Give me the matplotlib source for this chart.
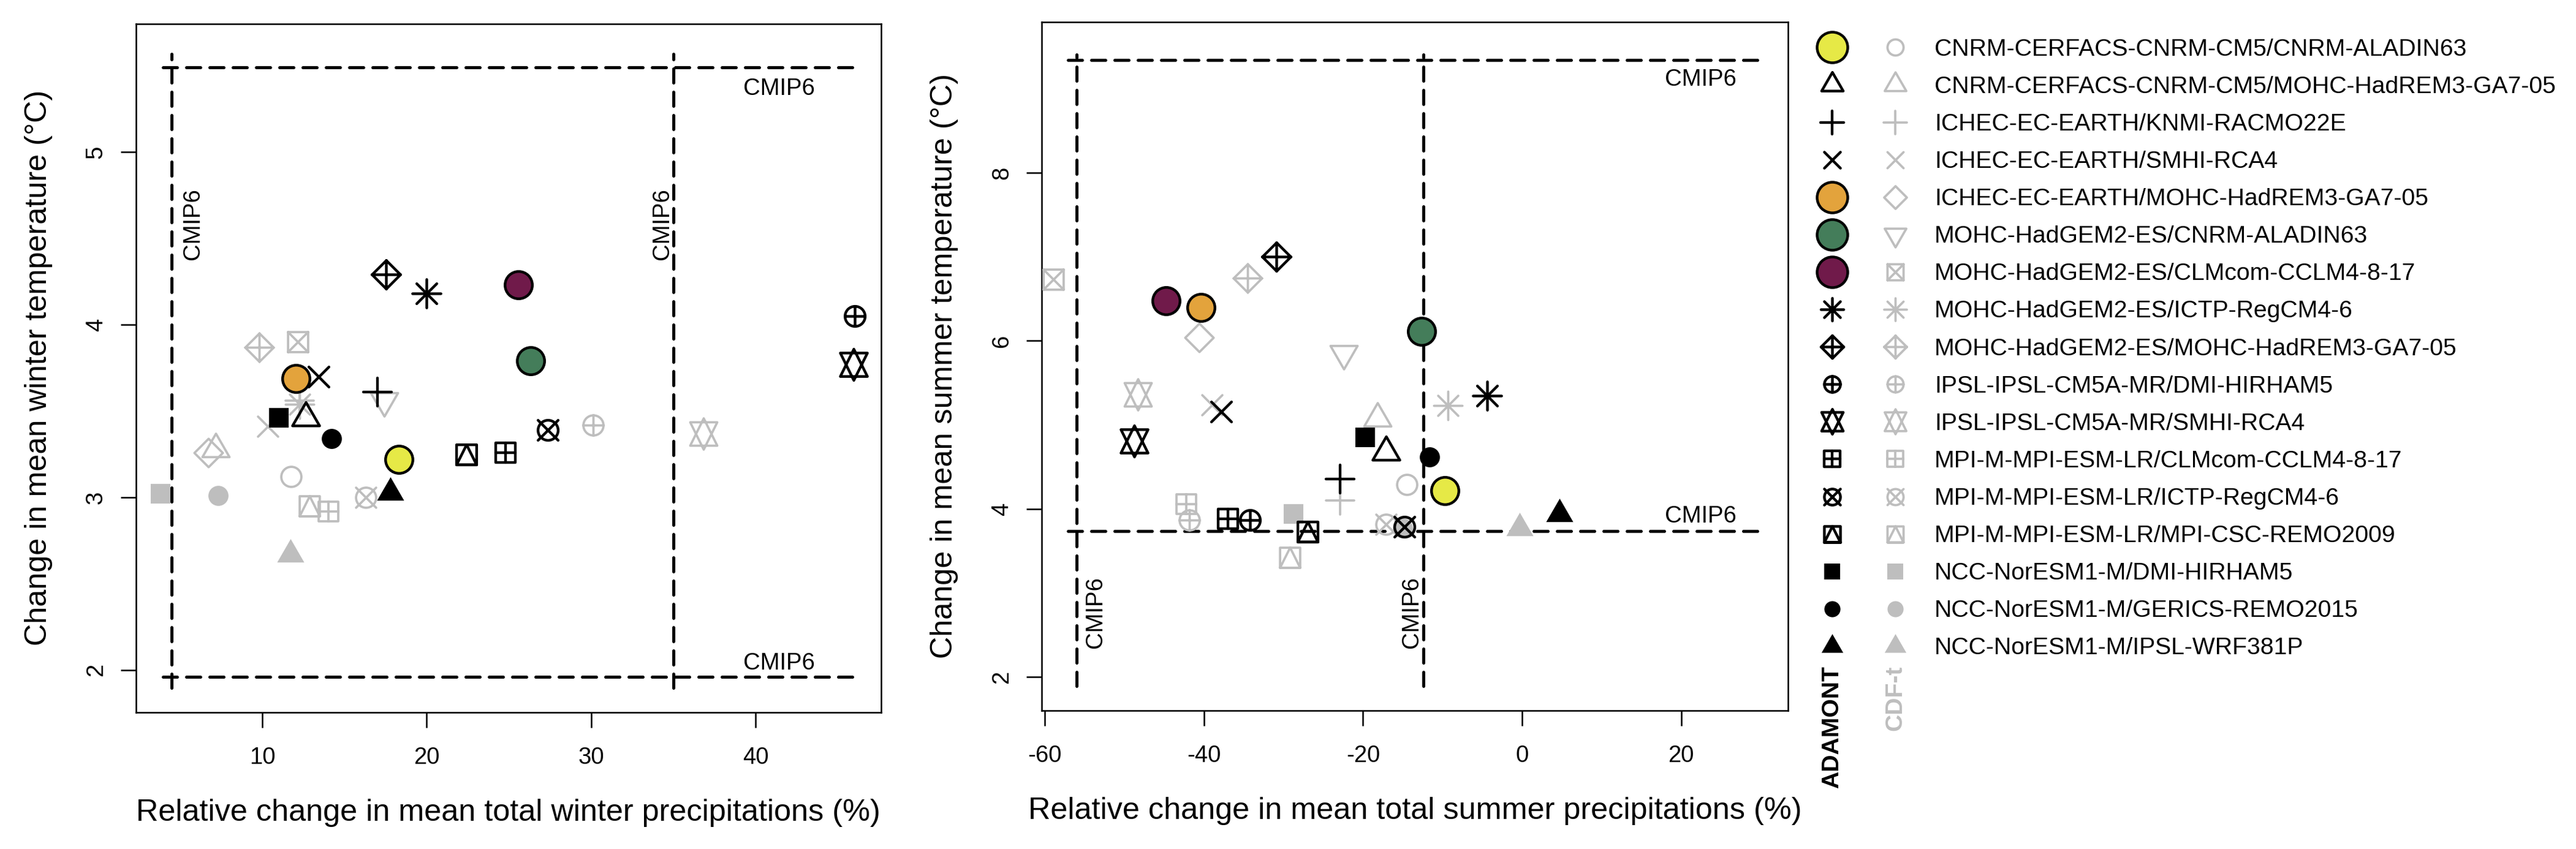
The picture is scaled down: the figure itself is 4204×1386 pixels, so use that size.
import numpy as np
import matplotlib
matplotlib.use("Agg")
import matplotlib.pyplot as plt
from matplotlib.path import Path
from matplotlib.markers import MarkerStyle
from matplotlib import transforms

plt.rcParams['font.family'] = ['Liberation Sans', 'DejaVu Sans']

# ---- data ----
models = [
    "CNRM-CERFACS-CNRM-CM5/CNRM-ALADIN63",
    "CNRM-CERFACS-CNRM-CM5/MOHC-HadREM3-GA7-05",
    "ICHEC-EC-EARTH/KNMI-RACMO22E",
    "ICHEC-EC-EARTH/SMHI-RCA4",
    "ICHEC-EC-EARTH/MOHC-HadREM3-GA7-05",
    "MOHC-HadGEM2-ES/CNRM-ALADIN63",
    "MOHC-HadGEM2-ES/CLMcom-CCLM4-8-17",
    "MOHC-HadGEM2-ES/ICTP-RegCM4-6",
    "MOHC-HadGEM2-ES/MOHC-HadREM3-GA7-05",
    "IPSL-IPSL-CM5A-MR/DMI-HIRHAM5",
    "IPSL-IPSL-CM5A-MR/SMHI-RCA4",
    "MPI-M-MPI-ESM-LR/CLMcom-CCLM4-8-17",
    "MPI-M-MPI-ESM-LR/ICTP-RegCM4-6",
    "MPI-M-MPI-ESM-LR/MPI-CSC-REMO2009",
    "NCC-NorESM1-M/DMI-HIRHAM5",
    "NCC-NorESM1-M/GERICS-REMO2015",
    "NCC-NorESM1-M/IPSL-WRF381P",
]

# R-like symbol codes (21 = big filled circle)
pch_adamont = [21, 2, 3, 4, 21, 21, 21, 8, 9, 10, 11, 12, 13, 14, 15, 16, 17]
pch_cdft = [1, 2, 3, 4, 5, 6, 7, 8, 9, 10, 11, 12, 13, 14, 15, 16, 17]
bg_adamont = ["#E6E946", None, None, None, "#E3A33C", "#447D5A", "#701A4A",
              None, None, None, None, None, None, None, None, None, None]

# winter (DJF)
winter_adamont_pr = [18.30, 12.66, 17.02, 13.44, 12.04, 26.32, 25.57, 19.98, 17.52,
                     46.02, 45.95, 24.79, 27.35, 22.40, 11.02, 14.21, 17.79]
winter_adamont_tas = [3.22, 3.46, 3.61, 3.70, 3.69, 3.79, 4.23, 4.18, 4.29,
                      4.05, 3.77, 3.26, 3.39, 3.25, 3.46, 3.34, 3.03]
winter_cdft_pr = [11.74, 7.17, 12.29, 10.34, 6.71, 17.42, 12.16, 12.26, 9.82,
                  30.13, 36.83, 14.03, 16.30, 12.88, 3.82, 7.33, 11.73]
winter_cdft_tas = [3.12, 3.28, 3.56, 3.41, 3.26, 3.56, 3.90, 3.54, 3.87,
                   3.42, 3.37, 2.92, 3.00, 2.95, 3.02, 3.01, 2.67]

# summer (JJA)
summer_adamont_pr = [-9.7, -17.1, -22.9, -37.8, -40.4, -12.6, -44.8, -4.4, -30.9,
                     -34.2, -48.8, -37.0, -14.8, -27.0, -19.7, -11.6, 4.7]
summer_adamont_tas = [4.22, 4.68, 4.36, 5.16, 6.40, 6.11, 6.48, 5.35, 7.00,
                      3.87, 4.81, 3.88, 3.79, 3.73, 4.85, 4.62, 3.94]
summer_cdft_pr = [-14.5, -18.2, -22.9, -39.0, -40.6, -22.4, -58.9, -9.3, -34.5,
                  -41.8, -48.3, -42.2, -17.1, -29.2, -28.7, -15.0, -0.3]
summer_cdft_tas = [4.29, 5.08, 4.10, 5.24, 6.04, 5.85, 6.73, 5.23, 6.75,
                   3.87, 5.36, 4.06, 3.82, 3.42, 3.94, 3.77, 3.77]

# CMIP6 ranges
winter_cmip6_pr = [4.5, 35.0]
winter_cmip6_tas = [1.96, 5.49]
summer_cmip6_pr = [-56.0, -12.4]
summer_cmip6_tas = [3.74, 9.34]

winter_xticks = [10, 20, 30, 40]
winter_yticks = [2, 3, 4, 5]
summer_xticks = [-60, -40, -20, 0, 20]
summer_yticks = [2, 4, 6, 8]

GREY = "#BEBEBE"
DPI = 300
W, H = 4204, 1386

# ---- R-like symbols as paths ----
TRC0 = np.sqrt(4 * np.pi / (3 * np.sqrt(3)))
TRC1 = TRC0 * np.sqrt(3) / 2
TRC2 = TRC0 / 2
S2 = np.sqrt(2)


def seg(*pts):
    return Path(pts, [Path.MOVETO] + [Path.LINETO] * (len(pts) - 1))


def poly(*pts):
    pts = list(pts) + [pts[0]]
    return Path(pts, [Path.MOVETO] + [Path.LINETO] * (len(pts) - 2) + [Path.CLOSEPOLY])


def comp(*paths):
    return Path.make_compound_path(*paths)


circ = Path.unit_circle()
sq = poly((-1, -1), (1, -1), (1, 1), (-1, 1))
tri_up = poly((0, TRC0), (TRC1, -TRC2), (-TRC1, -TRC2))
tri_dn = poly((0, -TRC0), (TRC1, TRC2), (-TRC1, TRC2))
plus_big = comp(seg((-S2, 0), (S2, 0)), seg((0, -S2), (0, S2)))
plus_1 = comp(seg((-1, 0), (1, 0)), seg((0, -1), (0, 1)))
cross = comp(seg((-1, -1), (1, 1)), seg((-1, 1), (1, -1)))
diamond = poly((0, S2), (S2, 0), (0, -S2), (-S2, 0))
yc = 0.5 * (TRC2 + TRC0)
star = comp(poly((0, -TRC0), (TRC1, yc), (-TRC1, yc)),
            poly((0, TRC0), (TRC1, -yc), (-TRC1, -yc)))

PCH = {
    1: circ, 2: tri_up, 3: plus_big, 4: cross, 5: diamond, 6: tri_dn,
    7: comp(sq, cross), 8: comp(cross, plus_big), 9: comp(diamond, plus_big),
    10: comp(circ, plus_1), 11: star, 12: comp(sq, plus_1), 13: comp(circ, cross),
    14: comp(sq, poly((0, 1), (1, -1), (-1, -1))), 15: sq, 16: circ, 17: tri_up,
}


def draw_symbol(ax, x, y, pch, col, r_pt, lw, bg=None, big_ms=10.7, z=3):
    if pch == 21:
        ax.plot([x], [y], ls="none", marker="o", ms=big_ms, mfc=bg, mec="black",
                mew=lw, zorder=z + 1)
        return
    path = PCH[pch]
    ms = 2 * np.abs(path.vertices).max() * r_pt
    m = MarkerStyle(path, capstyle="round", joinstyle="round")
    if pch in (15, 16, 17):
        ax.plot([x], [y], ls="none", marker=m, ms=ms, mfc=col, mec=col, mew=0.0, zorder=z)
    else:
        ax.plot([x], [y], ls="none", marker=m, ms=ms, mfc="none", mec=col, mew=lw, zorder=z)


R_PLOT = 16.4 / DPI * 72
R_LEG = 13.1 / DPI * 72
LW_BLACK = 1.05
LW_GREY = 0.9

fig = plt.figure(figsize=(W / DPI, H / DPI), dpi=DPI)
ax1 = fig.add_axes([0.05273, 0.16111, 0.28933, 0.81082])
ax2 = fig.add_axes([0.40438, 0.16328, 0.28965, 0.81097])


def dashed(ax, xs, ys):
    ax.plot(xs, ys, color="black", lw=1.2, dashes=(4.6, 3.0),
            dash_capstyle="round", zorder=1)


def setup(ax, xlim, ylim, xticks, yticks, xlabel, ylabel):
    ax.set_xlim(*xlim)
    ax.set_ylim(*ylim)
    ax.set_xticks(xticks)
    ax.set_yticks(yticks)
    ax.set_xticklabels([])
    ax.set_yticklabels([])
    ax.tick_params(direction="out", length=5.9, width=0.6, color="black")
    for s in ax.spines.values():
        s.set_linewidth(0.6)
    tx = transforms.offset_copy(ax.get_xaxis_transform(), fig=fig, y=-20.3, units="points")
    for v in xticks:
        ax.text(v, 0, str(v), transform=tx, ha="center", va="baseline", fontsize=9.2)
    ty = transforms.offset_copy(ax.get_yaxis_transform(), fig=fig, x=-13.2, units="points")
    for v in yticks:
        ax.text(0, v, str(v), transform=ty, ha="center", va="baseline", rotation=90,
                rotation_mode="anchor", fontsize=9.2)
    lx = transforms.offset_copy(ax.transAxes, fig=fig, y=-42.6, units="points")
    ax.text(0.5, 0, xlabel, transform=lx, ha="center", va="baseline", fontsize=12.1)
    ly = transforms.offset_copy(ax.transAxes, fig=fig, x=-35.0, units="points")
    ax.text(0, 0.5, ylabel, transform=ly, ha="center", va="baseline", rotation=90,
            rotation_mode="anchor", fontsize=12.1)


def panel(ax, cmip_pr, cmip_tas, hspan, vspan, vlab_y, vlab_dx, hlab_x, hlab_y,
          ad_pr, ad_tas, cd_pr, cd_tas):
    for t in cmip_tas:
        dashed(ax, hspan, [t, t])
    for p in cmip_pr:
        dashed(ax, [p, p], vspan)
    for p, d in zip(cmip_pr, vlab_dx):
        ax.text(p + d, vlab_y, "CMIP6", rotation=90, rotation_mode="anchor",
                ha="center", va="baseline", fontsize=9.2)
    for y in hlab_y:
        ax.text(hlab_x, y, "CMIP6", ha="center", va="baseline", fontsize=9.2)
    for i in range(len(models)):
        draw_symbol(ax, cd_pr[i], cd_tas[i], pch_cdft[i], GREY, R_PLOT, LW_GREY, z=3)
    for i in range(len(models)):
        draw_symbol(ax, ad_pr[i], ad_tas[i], pch_adamont[i], "black", R_PLOT, LW_BLACK,
                    bg=bg_adamont[i], z=5)


panel(ax1, winter_cmip6_pr, winter_cmip6_tas, [3.95, 46.09], [1.895, 5.568],
      4.583, [1.67, -0.31], 41.43, [5.333, 2.004],
      winter_adamont_pr, winter_adamont_tas, winter_cdft_pr, winter_cdft_tas)
setup(ax1, (2.313, 47.635), (1.7555, 5.7435), winter_xticks, winter_yticks,
      "Relative change in mean total winter precipitations (%)",
      "Change in mean winter temperature (°C)")

panel(ax2, summer_cmip6_pr, summer_cmip6_tas, [-57.1, 30.0], [1.89, 9.41],
      2.77, [3.17, -0.70], 22.44, [9.036, 3.839],
      summer_adamont_pr, summer_adamont_tas, summer_cdft_pr, summer_cdft_tas)
setup(ax2, (-60.40, 33.41), (1.6035, 9.796), summer_xticks, summer_yticks,
      "Relative change in mean total summer precipitations (%)",
      "Change in mean summer temperature (°C)")

# ---- legend (pixel coordinates of the figure) ----
lax = fig.add_axes([0, 0, 1, 1])
lax.set_xlim(0, W)
lax.set_ylim(H, 0)
lax.axis("off")
row_y = 77.3 + 61.1 * np.arange(len(models))
for i, name in enumerate(models):
    draw_symbol(lax, 2990, row_y[i], pch_adamont[i], "black", R_LEG, LW_BLACK,
                bg=bg_adamont[i], big_ms=12.0)
    draw_symbol(lax, 3093, row_y[i], pch_cdft[i], GREY, R_LEG, LW_GREY)
    lax.text(3157, row_y[i] + 13.5, name, ha="left", va="baseline", fontsize=9.4)
lax.text(2990, 1087, "ADAMONT", rotation=90, rotation_mode="anchor", ha="right",
         va="center", fontsize=9.4, fontweight="bold", color="black")
lax.text(3093, 1087, "CDF-t", rotation=90, rotation_mode="anchor", ha="right",
         va="center", fontsize=9.4, fontweight="bold", color=GREY)

fig.savefig("out.png", dpi=DPI)
